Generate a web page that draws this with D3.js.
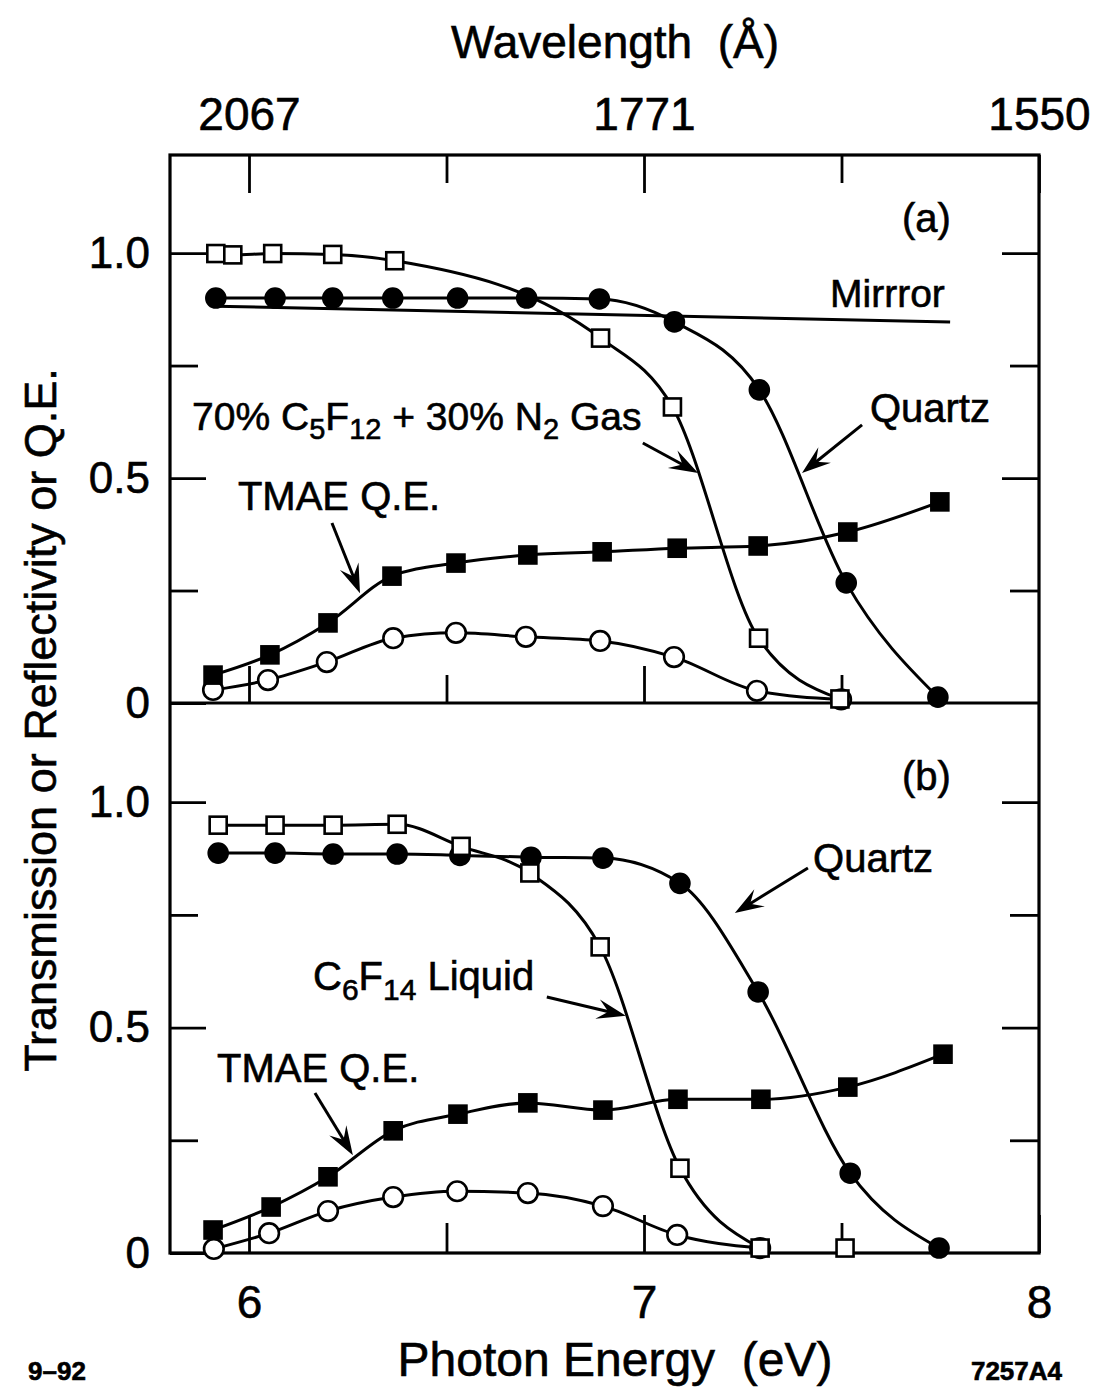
<!DOCTYPE html>
<html>
<head>
<meta charset="utf-8">
<script src="https://cdn.jsdelivr.net/npm/d3@7"></script>
<style>
  body { margin: 0; background: #fff; }
  text { font-family: "Liberation Sans", Arial, Helvetica, sans-serif; fill: #000; stroke: #000; stroke-width: 0.6px; }
</style>
</head>
<body>
<svg id="chart"></svg>
<script>
// ---- data (photon energy in eV) ----
// panel (a)
const gasE_a = [5.916, 5.959, 6.06, 6.212, 6.369, 6.89, 7.072, 7.29, 7.496];
const gasT_a = [0.999, 0.996, 0.999, 0.997, 0.983, 0.811, 0.658, 0.144, 0.009];
const quartzE_a = [5.916, 6.066, 6.212, 6.364, 6.528, 6.703, 6.887, 7.077, 7.292, 7.512, 7.744];
const quartzT_a = [0.9, 0.9, 0.9, 0.9, 0.9, 0.9, 0.898, 0.847, 0.696, 0.267, 0.013];
const mirrorE_a = [5.916, 7.775];
const mirrorR_a = [0.882, 0.847];
const qeE_a = [5.909, 6.053, 6.2, 6.362, 6.524, 6.706, 6.894, 7.084, 7.289, 7.516, 7.749];
const qeV_a = [0.062, 0.107, 0.178, 0.282, 0.311, 0.329, 0.336, 0.344, 0.349, 0.38, 0.447];
const effE_a = [5.909, 6.048, 6.197, 6.365, 6.524, 6.701, 6.889, 7.076, 7.286, 7.499];
const effV_a = [0.029, 0.051, 0.091, 0.144, 0.156, 0.147, 0.138, 0.102, 0.027, 0.008];
// panel (b)
const liqE_b = [5.922, 6.066, 6.213, 6.375, 6.537, 6.711, 6.889, 7.091, 7.294, 7.509];
const liqT_b = [0.949, 0.949, 0.949, 0.951, 0.902, 0.843, 0.679, 0.188, 0.011, 0.011];
const quartzE_b = [5.922, 6.066, 6.213, 6.375, 6.534, 6.714, 6.896, 7.091, 7.289, 7.522, 7.747];
const quartzT_b = [0.887, 0.887, 0.885, 0.885, 0.882, 0.878, 0.876, 0.82, 0.579, 0.177, 0.011];
const qeE_b = [5.909, 6.056, 6.2, 6.365, 6.529, 6.706, 6.896, 7.086, 7.296, 7.516, 7.757];
const qeV_b = [0.051, 0.102, 0.169, 0.271, 0.308, 0.333, 0.317, 0.341, 0.341, 0.368, 0.441];
const effE_b = [5.911, 6.051, 6.2, 6.365, 6.527, 6.706, 6.896, 7.084, 7.294];
const effV_b = [0.009, 0.044, 0.093, 0.124, 0.137, 0.133, 0.104, 0.04, 0.011];

// axis ticks and labels
const energyTicks = [6, 7, 8];
const energyMinor = [6.5, 7.5];
const wavelengthLabels = ["2067", "1771", "1550"];
const yMajor = [0, 0.5, 1.0];
const yMajorLabels = ["0", "0.5", "1.0"];
const yMinor = [0.25, 0.75];

// ---- layout ----
const width = 1093, height = 1397;
const plotL = 170, plotR = 1039, plotT = 155, plotM = 703, plotB = 1253;

const svg = d3.select("#chart").attr("width", width).attr("height", height);

const x = d3.scaleLinear().domain([5.8, 8]).range([plotL, plotR]);
const yA = d3.scaleLinear().domain([0, 1.218]).range([plotM, plotT]);
const yB = d3.scaleLinear().domain([0, 1.22]).range([plotB, plotM]);

const zip = (es, vs) => es.map((e, i) => [e, vs[i]]);

// axes: inward ticks, no domain line (frame drawn separately)
const styleAxis = g => {
  g.select(".domain").remove();
  g.selectAll(".tick line").attr("stroke", "#000").attr("stroke-width", 2.8);
  g.selectAll(".tick text").style("font-size", "44px").attr("fill", "#000")
    .style("font-family", '"Liberation Sans", Arial, sans-serif');
};

[yA, yB].forEach(y => {
  svg.append("g").attr("transform", `translate(${plotL},0)`)
    .call(d3.axisLeft(y).tickValues(yMajor).tickSize(-36).tickPadding(20)
      .tickFormat((d, i) => yMajorLabels[i]))
    .call(styleAxis);
  svg.append("g").attr("transform", `translate(${plotL},0)`)
    .call(d3.axisLeft(y).tickValues(yMinor).tickSize(-28).tickFormat(""))
    .call(styleAxis);
  svg.append("g").attr("transform", `translate(${plotR},0)`)
    .call(d3.axisRight(y).tickValues(yMajor.slice(1)).tickSize(-37).tickFormat(""))
    .call(styleAxis);
  svg.append("g").attr("transform", `translate(${plotR},0)`)
    .call(d3.axisRight(y).tickValues(yMinor).tickSize(-29).tickFormat(""))
    .call(styleAxis);
});

// top wavelength axis
svg.append("g").attr("transform", `translate(0,${plotT})`)
  .call(d3.axisTop(x).tickValues(energyTicks).tickSize(-38).tickPadding(25)
    .tickFormat((d, i) => wavelengthLabels[i]))
  .call(styleAxis)
  .call(g => g.selectAll(".tick text").style("font-size", "46px"));
svg.append("g").attr("transform", `translate(0,${plotT})`)
  .call(d3.axisTop(x).tickValues(energyMinor).tickSize(-28).tickFormat(""))
  .call(styleAxis);

// ticks on the shared middle line (pointing up into panel a)
svg.append("g").attr("transform", `translate(0,${plotM})`)
  .call(d3.axisBottom(x).tickValues(energyTicks.slice(0, 2)).tickSize(-37).tickFormat(""))
  .call(styleAxis);
svg.append("g").attr("transform", `translate(0,${plotM})`)
  .call(d3.axisBottom(x).tickValues(energyMinor).tickSize(-28).tickFormat(""))
  .call(styleAxis);

// bottom energy axis
svg.append("g").attr("transform", `translate(0,${plotB})`)
  .call(d3.axisBottom(x).tickValues(energyTicks).tickSize(-38).tickPadding(32).tickFormat(d3.format("d")))
  .call(styleAxis)
  .call(g => g.selectAll(".tick text").style("font-size", "46px"));
svg.append("g").attr("transform", `translate(0,${plotB})`)
  .call(d3.axisBottom(x).tickValues(energyMinor).tickSize(-30).tickFormat(""))
  .call(styleAxis);

// frame
svg.append("rect").attr("x", plotL).attr("y", plotT)
  .attr("width", plotR - plotL).attr("height", plotB - plotT)
  .attr("fill", "none").attr("stroke", "#000").attr("stroke-width", 3.2);
svg.append("line").attr("x1", plotL).attr("x2", plotR).attr("y1", plotM).attr("y2", plotM)
  .attr("stroke", "#000").attr("stroke-width", 3.2);

// ---- series ----
const drawLine = (pts, y, curve) => {
  svg.append("path").datum(pts)
    .attr("fill", "none").attr("stroke", "#000").attr("stroke-width", 3)
    .attr("d", d3.line().x(d => x(d[0])).y(d => y(d[1])).curve(curve || d3.curveMonotoneX));
};

const drawMarkers = (pts, y, kind) => {
  const g = svg.append("g");
  if (kind === "circle" || kind === "openCircle") {
    g.selectAll("circle").data(pts).join("circle")
      .attr("cx", d => x(d[0])).attr("cy", d => y(d[1]))
      .attr("r", kind === "circle" ? 9.5 : 9.8)
      .attr("fill", kind === "circle" ? "#000" : "#fff")
      .attr("stroke", "#000").attr("stroke-width", 2.6);
  } else {
    const s = kind === "square" ? 17 : 17;
    g.selectAll("rect").data(pts).join("rect")
      .attr("x", d => x(d[0]) - s / 2).attr("y", d => y(d[1]) - s / 2)
      .attr("width", s).attr("height", s)
      .attr("fill", kind === "square" ? "#000" : "#fff")
      .attr("stroke", "#000").attr("stroke-width", 2.6);
  }
};

const panelA = [
  { pts: zip(gasE_a, gasT_a), kind: "openSquare" },
  { pts: zip(quartzE_a, quartzT_a), kind: "circle" },
  { pts: zip(qeE_a, qeV_a), kind: "square" },
  { pts: zip(effE_a, effV_a), kind: "openCircle" }
];
const panelB = [
  { pts: zip(liqE_b, liqT_b).slice(0, 9), kind: null },
  { pts: zip(quartzE_b, quartzT_b), kind: "circle" },
  { pts: zip(qeE_b, qeV_b), kind: "square" },
  { pts: zip(effE_b, effV_b), kind: "openCircle" },
  { pts: zip(liqE_b, liqT_b), kind: "openSquare", noLine: true }
];

drawLine(zip(mirrorE_a, mirrorR_a), yA, d3.curveLinear);
panelA.forEach(s => drawLine(s.pts, yA));
panelB.forEach(s => { if (!s.noLine) drawLine(s.pts, yB); });
["openCircle", "circle", "square", "openSquare"].forEach(k => {
  panelA.filter(s => s.kind === k).forEach(s => drawMarkers(s.pts, yA, k));
  panelB.filter(s => s.kind === k).forEach(s => drawMarkers(s.pts, yB, k));
});

// ---- annotations ----
const label = (parts, e, v, y, size) => {
  const t = svg.append("text").attr("x", x(e)).attr("y", y(v)).style("font-size", size + "px");
  let shift = 0;
  parts.forEach(p => {
    const isSub = typeof p !== "string";
    const target = isSub ? size * 0.24 : 0;
    const sp = t.append("tspan").text(isSub ? p.sub : p).attr("dy", target - shift);
    if (isSub) sp.style("font-size", Math.round(size * 0.74) + "px");
    shift = target;
  });
  return t;
};

const arrow = (e1, v1, e2, v2, y) => {
  const x1 = x(e1), y1 = y(v1), x2 = x(e2), y2 = y(v2);
  const len = Math.hypot(x2 - x1, y2 - y1), ux = (x2 - x1) / len, uy = (y2 - y1) / len;
  const L = 29, w = 10;
  svg.append("line").attr("x1", x1).attr("y1", y1)
    .attr("x2", x2 - ux * L * 0.6).attr("y2", y2 - uy * L * 0.6)
    .attr("stroke", "#000").attr("stroke-width", 3);
  const p = [
    [x2, y2],
    [x2 - ux * L - uy * w, y2 - uy * L + ux * w],
    [x2 - ux * L * 0.62, y2 - uy * L * 0.62],
    [x2 - ux * L + uy * w, y2 - uy * L - ux * w]
  ];
  svg.append("path").attr("d", "M" + p.join("L") + "Z").attr("fill", "#000");
};

// panel (a)
label(["(a)"], 7.653, 1.047, yA, 40);
label(["Mirrror"], 7.471, 0.88, yA, 39);
label(["70% C", { sub: "5" }, "F", { sub: "12" }, " + 30% N", { sub: "2" }, " Gas"], 5.856, 0.607, yA, 39);
label(["Quartz"], 7.572, 0.624, yA, 40);
label(["TMAE Q.E."], 5.972, 0.429, yA, 40);
arrow(6.997, 0.578, 7.137, 0.511, yA);
arrow(7.552, 0.618, 7.4, 0.511, yA);
arrow(6.21, 0.4, 6.281, 0.244, yA);

// panel (b)
label(["(b)"], 7.653, 1.027, yB, 40);
label(["Quartz"], 7.428, 0.845, yB, 40);
label(["C", { sub: "6" }, "F", { sub: "14" }, " Liquid"], 6.162, 0.583, yB, 40);
label(["TMAE Q.E."], 5.919, 0.379, yB, 40);
arrow(7.415, 0.854, 7.23, 0.754, yB);
arrow(6.754, 0.568, 6.954, 0.526, yB);
arrow(6.167, 0.355, 6.263, 0.217, yB);

// ---- axis titles and footer ----
svg.append("text").attr("x", 615).attr("y", 58).attr("text-anchor", "middle")
  .style("font-size", "46px").text("Wavelength\u00A0 (Å)");
svg.append("text").attr("x", 615).attr("y", 1376).attr("text-anchor", "middle")
  .style("font-size", "48px").text("Photon Energy\u00A0 (eV)");
svg.append("text").attr("transform", "translate(56,720) rotate(-90)").attr("text-anchor", "middle")
  .style("font-size", "45px").text("Transmission or Reflectivity or Q.E.");
svg.append("text").attr("x", 28).attr("y", 1380).style("font-size", "26px").style("font-weight", "bold")
  .text("9–92");
svg.append("text").attr("x", 1062).attr("y", 1380).attr("text-anchor", "end")
  .style("font-size", "26px").style("font-weight", "bold").text("7257A4");
</script>
</body>
</html>
